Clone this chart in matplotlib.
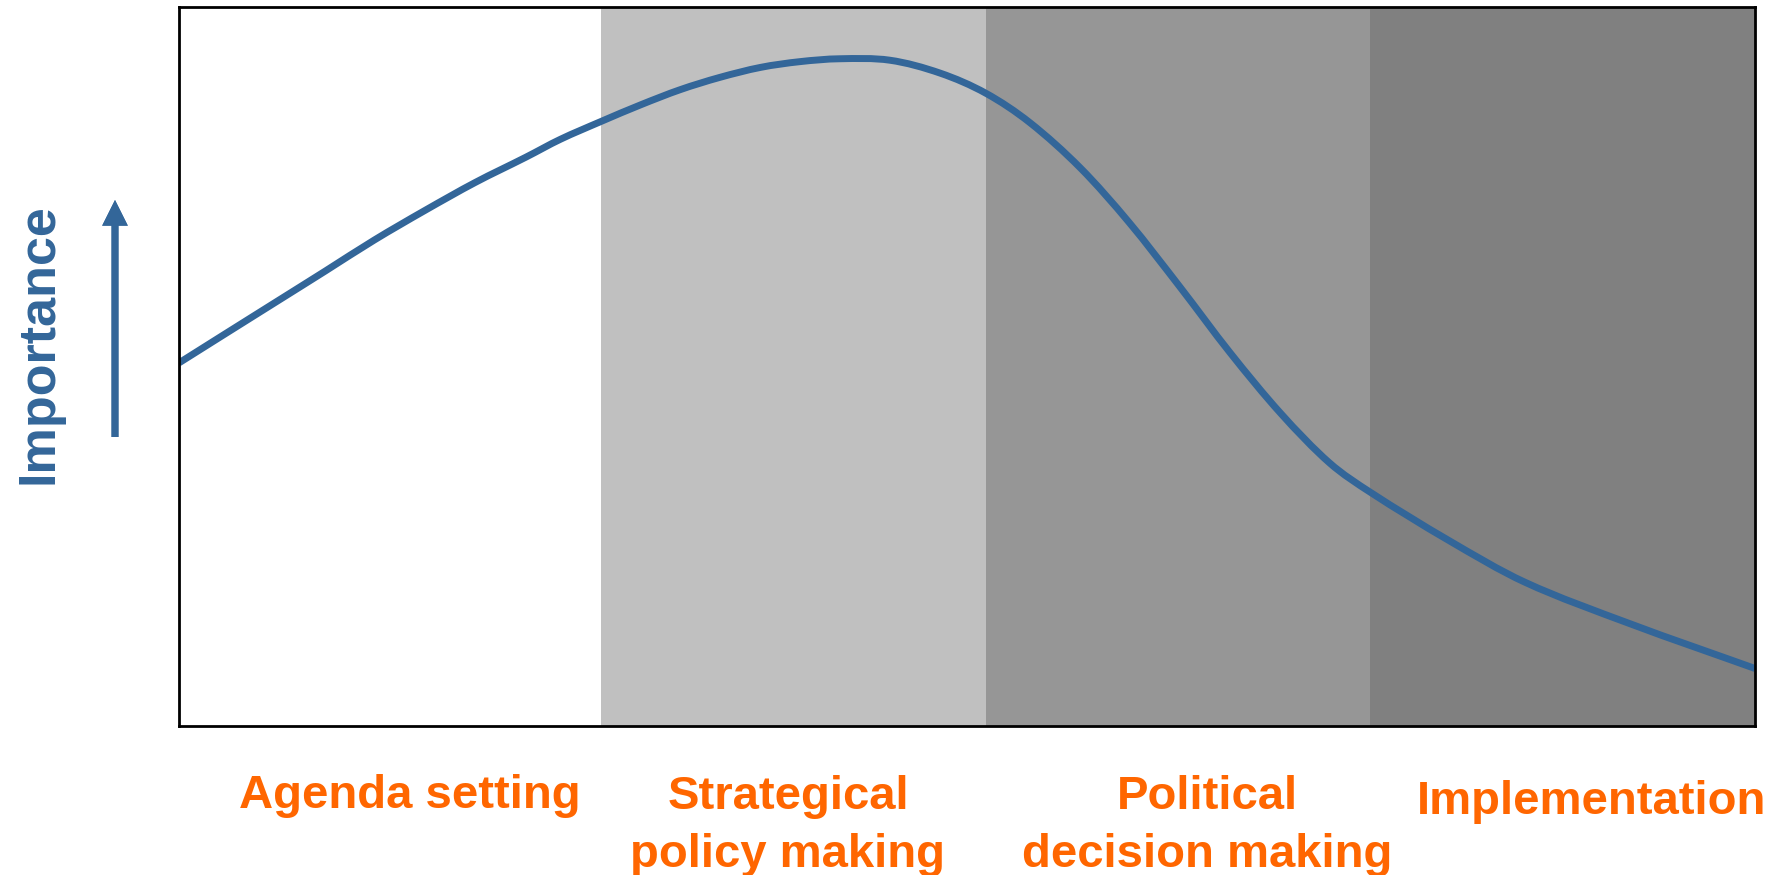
import matplotlib
matplotlib.use("Agg")
import matplotlib.pyplot as plt
from matplotlib.path import Path
from matplotlib.patches import PathPatch

# phases of the policy cycle and where each one starts/ends on the x scale (0-100)
phases = ["Agenda setting", "Strategical\npolicy making",
          "Political\ndecision making", "Implementation"]
phase_edges = [0, 26.8, 51.2, 75.6, 100]
phase_colors = ["#ffffff", "#c0c0c0", "#969696", "#808080"]

# importance curve
progress = [0, 2.9, 6.1, 9.3, 12.4, 15.6, 18.8, 22.0, 24.2, 26.8, 29.3,
            31.8, 34.3, 36.9, 39.4, 41.9, 45.1, 48.3, 51.2, 54.0, 57.2,
            60.3, 63.5, 66.7, 69.9, 73.0, 75.6, 80.5, 85.4, 92.1, 100]
importance = [50.5, 54.5, 58.9, 63.3, 67.6, 71.7, 75.6, 79.1, 81.6, 84.1,
              86.4, 88.5, 90.2, 91.6, 92.4, 92.8, 92.6, 90.8, 88.0, 83.9,
              77.6, 70.0, 61.1, 51.9, 43.5, 36.6, 32.5, 25.9, 20.0, 14.2, 8.0]

blue = "#336699"
orange = "#ff6600"
W, H = 1783, 875


def smooth_path(xs, ys):
    # cubic bezier segments through the read points, slopes from neighbours
    n = len(xs)
    m = []
    for i in range(n):
        a = max(i - 1, 0)
        b = min(i + 1, n - 1)
        m.append((ys[b] - ys[a]) / (xs[b] - xs[a]))
    verts = [(xs[0], ys[0])]
    codes = [Path.MOVETO]
    for i in range(n - 1):
        h = (xs[i + 1] - xs[i]) / 3
        verts += [(xs[i] + h, ys[i] + m[i] * h),
                  (xs[i + 1] - h, ys[i + 1] - m[i + 1] * h),
                  (xs[i + 1], ys[i + 1])]
        codes += [Path.CURVE4] * 3
    return Path(verts, codes)


plt.rcParams["font.family"] = ["Liberation Sans", "DejaVu Sans"]
fig = plt.figure(figsize=(W / 100, H / 100), dpi=100)
ax = fig.add_axes([179 / W, 1 - 726 / H, (1755 - 179) / W, (726 - 7) / H])

for i in range(len(phases)):
    ax.axvspan(phase_edges[i], phase_edges[i + 1], color=phase_colors[i], lw=0)

ax.add_patch(PathPatch(smooth_path(progress, importance), fill=False,
                       edgecolor=blue, lw=5, capstyle="butt"))

ax.set_xlim(0, 100)
ax.set_ylim(0, 100)
ax.set_xticks([])
ax.set_yticks([])
for s in ax.spines.values():
    s.set_linewidth(2)
    s.set_color("black")

# phase labels under the plot (centre x, baseline of last line in pixels)
label_pos = [(410, 808), (788, 867), (1207, 867), (1592, 814)]
for name, (px, py) in zip(phases, label_pos):
    fig.text(px / W, 1 - py / H, name, ha="center", va="baseline",
             color=orange, fontsize=34, fontweight="bold", linespacing=1.42)

# y label with arrow
fig.text(39 / W, 1 - 344 / H, "Importance", rotation=90, ha="center",
         va="center", color=blue, fontsize=37.5, fontweight="bold")
fig.add_artist(plt.annotate("", xy=(115 / W, 1 - 200 / H),
                            xytext=(115 / W, 1 - 437 / H),
                            xycoords="figure fraction",
                            arrowprops=dict(arrowstyle="-|>", color=blue, lw=5,
                                            mutation_scale=26, shrinkA=0,
                                            shrinkB=0, joinstyle="miter",
                                            capstyle="butt")))

fig.savefig("out.png", dpi=100)
